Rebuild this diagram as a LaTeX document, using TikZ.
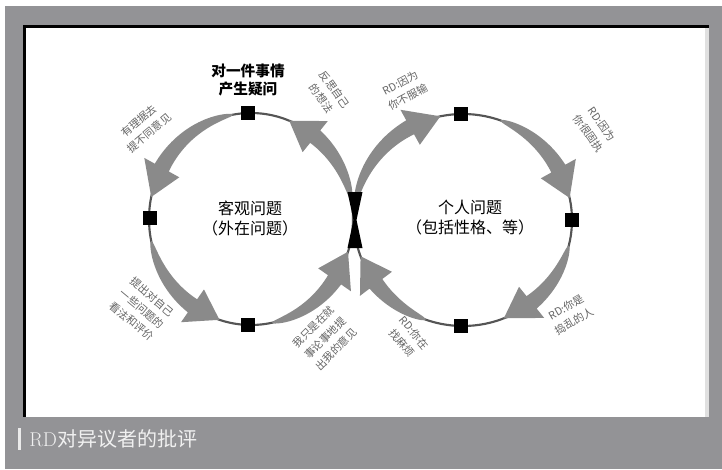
\documentclass[tikz,border=0pt]{standalone}
\usepackage{fontspec}
\newfontfamily\cjk{Noto Sans CJK SC}
\definecolor{keretszurke}{RGB}{147,147,150}
\definecolor{nyilszurke}{RGB}{138,138,138}
\definecolor{iraszurke}{RGB}{100,100,100}
\definecolor{vonalszurke}{RGB}{85,85,85}

%ívelt, elvékonyodó nyíl egy ellipszis mentén: kp. x, kp. y, rx, ry, kezdő és végső szög
\newcommand{\ivnyil}[6]{%
  \pgfmathsetmacro{\ivM}{#6-17*sign(#6-#5)}
  \fill[nyil] plot[domain=0:1,samples=30,variable=\t]
    ({#1+(#3+8*sqrt(\t))*cos(#5+\t*(\ivM-#5))},{#2+(#4+8*sqrt(\t))*sin(#5+\t*(\ivM-#5))})
    -- ({#1+(#3+20)*cos(\ivM)},{#2+(#4+20)*sin(\ivM)})
    -- ({#1+#3*cos(#6)},{#2+#4*sin(#6)})
    -- ({#1+(#3-20)*cos(\ivM)},{#2+(#4-20)*sin(\ivM)})
    -- plot[domain=0:1,samples=30,variable=\t]
    ({#1+(#3-8*sqrt(1-\t))*cos(#5+(1-\t)*(\ivM-#5))},{#2+(#4-8*sqrt(1-\t))*sin(#5+(1-\t)*(\ivM-#5))})
    -- cycle;}

\begin{document}
\begin{tikzpicture}[x=0.75pt,y=0.75pt,
    negyzet/.style={fill=black,minimum size=10pt,inner sep=0pt},
    felirat/.style={font=\cjk\fontsize{8}{12}\selectfont,text=iraszurke,align=center,inner sep=0pt},
    kozep/.style={font=\cjk\fontsize{12}{15}\selectfont,align=center,inner sep=0pt},
    nyil/.style={fill=nyilszurke},
    vonal/.style={draw=vonalszurke,line width=1.6pt}]
    \useasboundingbox (0,0) rectangle (722,469);

    %a keret és a fehér lap
    \fill[white] (0,0) rectangle (722,469);
    \fill[keretszurke] (5,0) rectangle (722,463);
    \fill[white] (23,52) rectangle (709,444);
    \fill[black!12] (705,52) rectangle (709,441);
    \fill[black] (23,52) rectangle (25.5,444);
    \fill[black] (23,441) rectangle (709,444);

    %a két kör vékony vonala
    \draw[vonal] (251,250) ellipse [x radius=102, y radius=106];
    \draw[vonal] (463,249) ellipse [x radius=109, y radius=106];

    %bal kör: az óramutatóval ellentétesen
    \ivnyil{251}{250}{102}{106}{100}{168}
    \ivnyil{251}{250}{102}{106}{192}{252}
    \ivnyil{251}{250}{102}{106}{282}{342}
    \ivnyil{251}{250}{102}{106}{10}{68}

    %jobb kör: az óramutató járásával egyezően
    \ivnyil{463}{249}{109}{106}{172}{102}
    \ivnyil{463}{249}{109}{106}{70}{12}
    \ivnyil{463}{249}{109}{106}{-14}{-68}
    \ivnyil{463}{249}{109}{106}{250}{200}

    %a négyzetek
    \node[negyzet] (bfelso) at (248,356) {};
    \node[negyzet] (bbal) at (150,251) {};
    \node[negyzet] (balso) at (248,144) {};
    \node[negyzet] (jfelso) at (461,355) {};
    \node[negyzet] (jjobb) at (572,249) {};
    \node[negyzet] (jalso) at (461,143) {};

    %a középső homokóra
    \fill[black] (347.5,277) -- (362.5,277) -- (356.5,249) -- (362.5,221)
        -- (347.5,221) -- (353.5,249) -- cycle;

    %feliratok
    \node[kozep] (bkozep) at (250,251) {客观问题\\（外在问题）};
    \node[kozep] (jkozep) at (470,251) {个人问题\\（包括性格、等）};
    \node[font=\cjk\bfseries\fontsize{11}{13}\selectfont,align=center] (kerdes) at (248,389)
        {对一件事情\\产生疑问};
    \node[felirat,rotate=40] (bfb) at (144,342) {有理据去\\提不同意见};
    \node[felirat,rotate=-55] (bfj) at (328,375) {反思自己\\的想法};
    \node[felirat,rotate=-40] (bab) at (142,160) {提出对自己\\一些问题的\\看法和评价};
    \node[felirat,rotate=45] (baj) at (325,131) {我只是在就\\事论事地提\\出我的意见};
    \node[felirat,rotate=28] (jfb) at (404,379) {RD:因为\\你不服输};
    \node[felirat,rotate=-55] (jfj) at (595,340) {RD:因为\\你很固执};
    \node[felirat,rotate=30] (jaj) at (570,155) {RD:你是\\捣乱的人};
    \node[felirat,rotate=-50] (jab) at (408,131) {RD:你在\\找麻烦};

    %képaláírás
    \fill[white!92!black] (18,19) rectangle (21,41);
    \node[anchor=west,text=white!94!black,inner sep=0pt,font=\fontsize{15}{17}\selectfont] (alairas) at (29,30)
        {RD{\cjk 对异议者的批评}};
\end{tikzpicture}
\end{document}
